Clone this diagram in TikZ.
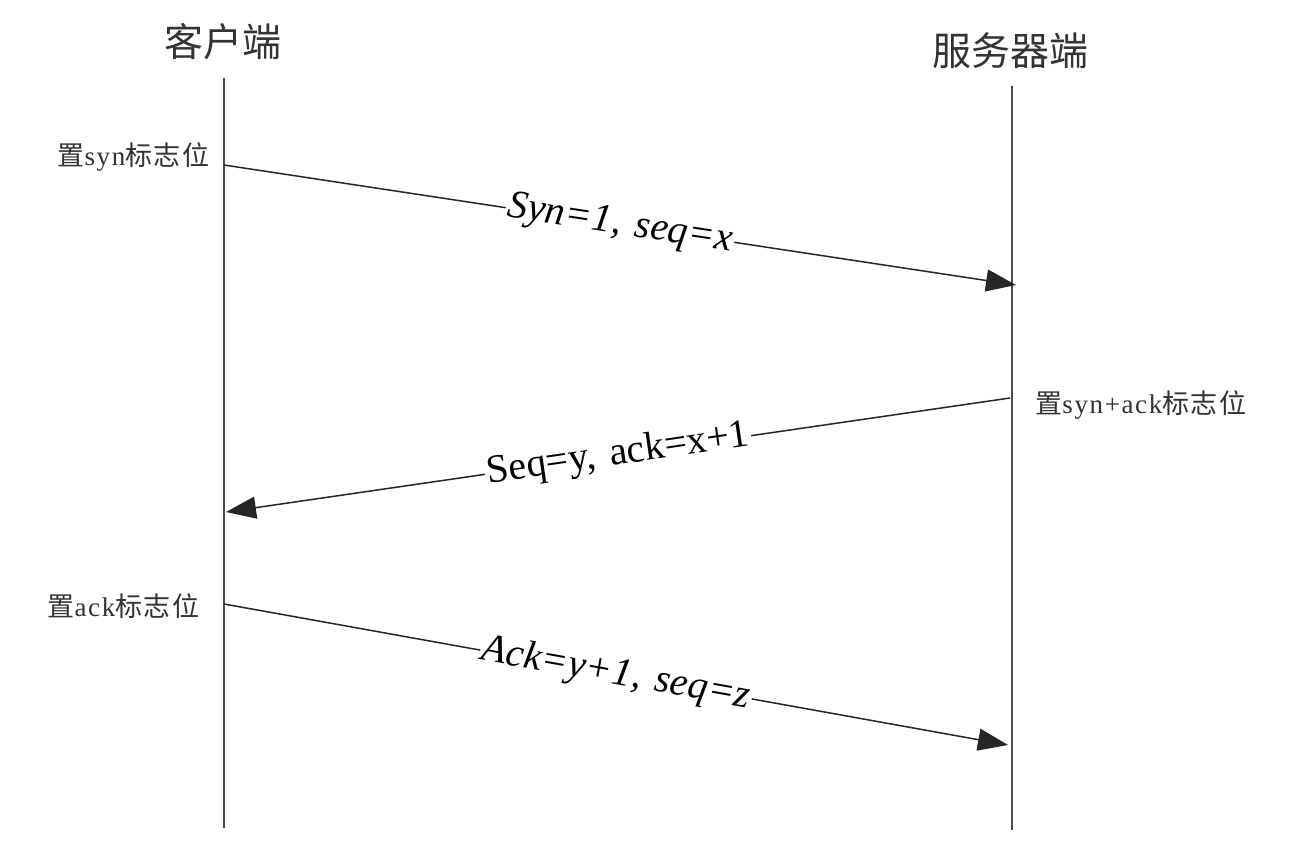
\documentclass[tikz,border=0pt]{standalone}
\usepackage{fontspec}
\setmainfont{Liberation Serif}
\newfontfamily\sidelat[LetterSpace=6]{Liberation Serif}
\newfontfamily\cjk{Noto Sans CJK SC}
\newfontfamily\sidecjk[LetterSpace=6]{Noto Sans CJK SC}
\usetikzlibrary{arrows.meta}
\begin{document}
\begin{tikzpicture}[x=0.5pt,y=-0.5pt,
  life/.style={draw=black!70,line width=1pt},
  msg/.style={draw=black!85,line width=0.75pt,-{Triangle[length=15pt,width=11pt]}},
  msglabel/.style={fill=white,inner sep=1pt,font=\fontsize{20}{22}\selectfont,sloped},
  head/.style={font=\cjk\fontsize{19.5}{22}\selectfont,text=black!80},
  side/.style={font=\sidelat\fontsize{13.5}{15}\selectfont,text=black!80,inner sep=0pt}]
\useasboundingbox[fill=white] (0,0) rectangle (1301,846);
% lifelines
\coordinate (ctop) at (224,78);
\coordinate (cbot) at (224,828);
\coordinate (stop) at (1012,86);
\coordinate (sbot) at (1012,830);
\draw[life] (ctop) -- (cbot);
\draw[life] (stop) -- (sbot);
% headers
\node[head] (client) at (223,42) {客户端};
\node[head] (server) at (1010,51) {服务器端};
% message points
\coordinate (a1) at (224,165);
\coordinate (b1) at (1016,285);
\coordinate (b2) at (1010,398);
\coordinate (a2) at (226,512);
\coordinate (a3) at (224,604);
\coordinate (b3) at (1008,745);
% messages
\draw[msg] (a1) -- node[msglabel] {\itshape Syn=1,\hspace{0.35em}seq=x} (b1);
\draw[msg] (b2) -- node[msglabel] {Seq=y,\hspace{0.35em}ack=x+1} (a2);
\draw[msg] (a3) -- node[msglabel] {\itshape Ack=y+1,\hspace{0.35em}seq=z} (b3);
% side labels
\node[side,anchor=east] (l1) at (210,157) {{\sidecjk 置}syn{\sidecjk 标志位}};
\node[side,anchor=west] (l2) at (1035,405) {{\sidecjk 置}syn+ack{\sidecjk 标志位}};
\node[side,anchor=east] (l3) at (200,606) {{\sidecjk 置}ack{\sidecjk 标志位}};
\end{tikzpicture}
\end{document}
